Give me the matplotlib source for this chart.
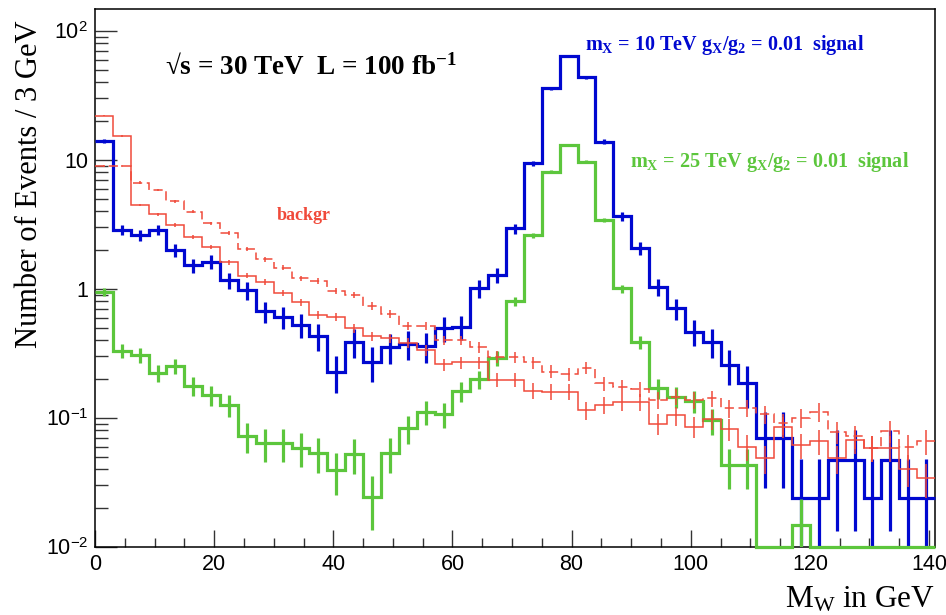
import matplotlib
matplotlib.use("Agg")
import matplotlib.pyplot as plt
import numpy as np
from matplotlib.ticker import FixedLocator, FixedFormatter, NullFormatter

# histogram binning: 47 bins of 3 GeV
bin_width = 3.0
n_bins = 47
x_max = 141.0

# bin contents (events / 3 GeV)
blue_vals = [14.0, 2.87, 2.62, 2.87, 2.0, 1.53, 1.63, 1.17, 0.98, 0.67, 0.61,
             0.53, 0.43, 0.229, 0.39, 0.272, 0.355, 0.377, 0.36, 0.495, 0.51,
             1.01, 1.28, 2.95, 9.4, 36.0, 64.0, 43.7, 13.9, 3.68, 2.07,
             1.04, 0.71, 0.467, 0.39, 0.258, 0.186, 0.0697, 0.0697, 0.0239, 0.0239,
             0.047, 0.047, 0.0239, 0.047, 0.0239, 0.0239]
green_vals = [0.95, 0.333, 0.307, 0.224, 0.253, 0.178, 0.151, 0.126, 0.0724, 0.0637, 0.0637,
              0.059, 0.054, 0.0395, 0.053, 0.0245, 0.054, 0.083, 0.112, 0.107, 0.161,
              0.2, 0.29, 0.80, 2.62, 8.1, 13.1, 9.7, 3.43, 1.01, 0.387,
              0.17, 0.146, 0.136, 0.096, 0.043, 0.043, 0.0, 0.0, 0.0148, 0.0,
              0.0, 0.0, 0.0, 0.0, 0.0, 0.0]
bkg_solid_vals = [22.0, 15.3, 4.48, 3.8, 3.13, 2.54, 2.13, 1.61, 1.27, 1.14, 0.936,
                  0.79, 0.63, 0.605, 0.496, 0.43, 0.415, 0.384, 0.336, 0.26, 0.27,
                  0.27, 0.197, 0.197, 0.163, 0.16, 0.16, 0.115, 0.126, 0.134, 0.134,
                  0.09, 0.105, 0.0857, 0.098, 0.082, 0.06, 0.0488, 0.0857, 0.0618, 0.066,
                  0.0488, 0.067, 0.059, 0.059, 0.0403, 0.034]
bkg_dashed_vals = [8.97, 8.97, 6.67, 5.85, 4.8, 3.97, 3.23, 2.73, 2.04, 1.70, 1.46,
                   1.21, 1.16, 0.97, 0.9, 0.74, 0.64, 0.516, 0.516, 0.40, 0.40,
                   0.353, 0.298, 0.296, 0.27, 0.229, 0.219, 0.245, 0.186, 0.175, 0.167,
                   0.138, 0.146, 0.138, 0.142, 0.119, 0.12, 0.107, 0.091, 0.1005, 0.112,
                   0.078, 0.072, 0.059, 0.079, 0.06, 0.066]

# weight of one MC event in each sample (sets the size of the error bars)
blue_w = 0.024
green_w = 0.005
bkg_w = 0.003

y_ticks = [1e-2, 1e-1, 1, 10, 100]
y_tick_labels = [r"$10^{-2}$", r"$10^{-1}$", "1", "10", r"$10^{2}$"]
x_ticks = [0, 20, 40, 60, 80, 100, 120, 140]

BLUE = "#0008D0"
GREEN = "#5CC63C"
RED = "#F04A3A"

plt.rcParams["mathtext.fontset"] = "custom"
plt.rcParams["mathtext.rm"] = "Liberation Sans"
plt.rcParams["mathtext.bf"] = "Liberation Serif:bold"
plt.rcParams["mathtext.it"] = "Liberation Serif"
plt.rcParams["font.family"] = ["Liberation Sans", "DejaVu Sans"]

W, H = 946, 615
fig = plt.figure(figsize=(W / 100, H / 100), dpi=100)
L, R, T, B = 95, 935, 9, 547
ax = fig.add_axes([L / W, 1 - B / H, (R - L) / W, (B - T) / H])

edges = np.arange(n_bins + 1) * bin_width
centers = edges[:-1] + bin_width / 2
y_min, y_max = 1e-2, 148.0


def draw_hist(vals, w, color, lw, ls="-"):
    v = np.array(vals, dtype=float)
    shown = np.where(v > 0, v, y_min)
    ax.stairs(shown, edges, baseline=None, color=color, lw=lw, linestyle=ls,
              clip_on=False, zorder=3)
    m = v > 0
    err = np.sqrt(v[m] * w)
    lo = np.where(v[m] - err > 1e-3, err, v[m] - 1e-3)
    ax.errorbar(centers[m], v[m], yerr=[lo, err], fmt="none", ecolor=color,
                elinewidth=lw, capsize=0, zorder=3)


draw_hist(blue_vals, blue_w, BLUE, 2.3)
draw_hist(green_vals, green_w, GREEN, 2.3)
draw_hist(bkg_solid_vals, bkg_w, RED, 1.1)
draw_hist(bkg_dashed_vals, bkg_w, RED, 1.1, ls=(0, (6, 3)))

ax.set_yscale("log")
ax.set_xlim(0, x_max)
ax.set_ylim(y_min, y_max)

ax.yaxis.set_major_locator(FixedLocator(y_ticks))
ax.yaxis.set_major_formatter(FixedFormatter(y_tick_labels))
minors = [m * 10.0 ** e for e in range(-2, 3) for m in range(2, 10)]
ax.yaxis.set_minor_locator(FixedLocator([t for t in minors if t < y_max]))
ax.yaxis.set_minor_formatter(NullFormatter())
ax.xaxis.set_major_locator(FixedLocator(x_ticks))
ax.xaxis.set_minor_locator(FixedLocator(np.arange(0, 141, 5)))

ax.tick_params(which="both", direction="in", top=False, right=False,
               labelsize=15.5, width=1.0, color="#333333")
ax.tick_params(axis="y", which="major", length=16, pad=5)
ax.tick_params(axis="y", which="minor", length=9)
ax.tick_params(axis="x", which="major", length=12, pad=5)
ax.tick_params(axis="x", which="minor", length=6.5)
for s in ax.spines.values():
    s.set_linewidth(1.1)

serif = ["Liberation Serif", "DejaVu Serif"]


def px(x, y):
    return x / W, 1 - y / H


fig.text(*px(30, 20), "Number of Events / 3 GeV", rotation=90, ha="center",
         va="top", fontsize=22, family=serif)
fig.text(*px(935, 600), r"M$_{\mathit{W}}$ in GeV", ha="right", va="center",
         fontsize=22.5, family=serif)

fig.text(*px(165, 68), "\u221as = 30 TeV  L = 100 fb$^{\\mathbf{-1}}$",
         ha="left", va="center", fontsize=19.5, family=serif, weight="bold")
fig.text(*px(585, 45),
         r"m$_{\mathbf{X}}$ = 10 TeV g$_{\mathbf{X}}$/g$_{\mathbf{2}}$ = 0.01  signal",
         ha="left", va="center", fontsize=14.5, family=serif, weight="bold",
         color=BLUE)
fig.text(*px(630, 162),
         r"m$_{\mathbf{X}}$ = 25 TeV g$_{\mathbf{X}}$/g$_{\mathbf{2}}$ = 0.01  signal",
         ha="left", va="center", fontsize=14.5, family=serif, weight="bold",
         color=GREEN)
fig.text(*px(277, 216), "backgr", ha="left", va="center", fontsize=13,
         family=serif, weight="bold", color=RED)

fig.savefig("out.png", dpi=100)
